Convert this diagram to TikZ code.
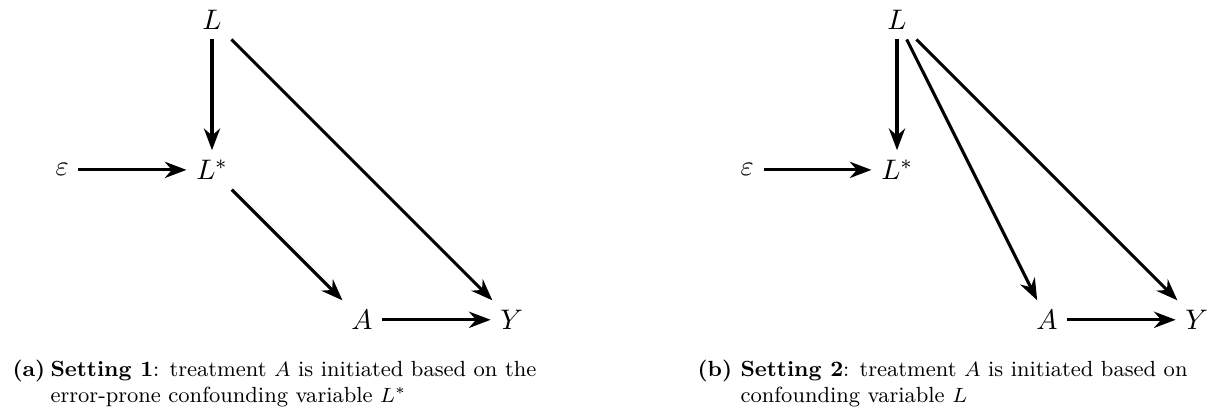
\documentclass[tikz,border=0pt]{standalone}
\usetikzlibrary{arrows.meta,positioning}
\tikzset{var/.style={on grid,inner sep=3.6pt,font=\fontsize{10.95}{13.6}\selectfont}}
\tikzset{cause/.style={-{Stealth},line width=1.2pt}}
\tikzset{caplabel/.style={anchor=base west,inner sep=0pt,font=\fontsize{8.5}{10.5}\selectfont\bfseries}}
\tikzset{capline/.style={anchor=base west,inner sep=0pt,font=\fontsize{8.5}{10.5}\selectfont}}

\begin{document}
\begin{tikzpicture}[x=0.3876pt,y=-0.3876pt,node distance=58.1pt]
\useasboundingbox (0,0) rectangle (1209,408);
\node[var](L1) at (212,20) {$L$};
\node[var](Ls1)[below=of L1]{$L^*$};
\node[var](eps1)[left=of Ls1]{$\varepsilon$};
\node[var](A1)[below right=58.1pt and 58.1pt of Ls1]{$A$};
\node[var](Y1)[right=of A1]{$Y$};
\draw[cause](L1) -- (Ls1);
\draw[cause](eps1) -- (Ls1);
\draw[cause](Ls1) -- (A1);
\draw[cause](L1) -- (Y1);
\draw[cause](A1) -- (Y1);
\node[caplabel](laba) at (12,376) {(a)};
\node[capline](capa1) at (50,376) {\textbf{Setting 1}: treatment $A$ is initiated based on the};
\node[capline](capa2) at (50,402) {error-prone confounding variable $L^*$};

\node[var](L2) at (897,20) {$L$};
\node[var](Ls2)[below=of L2]{$L^*$};
\node[var](eps2)[left=of Ls2]{$\varepsilon$};
\node[var](A2)[below right=58.1pt and 58.1pt of Ls2]{$A$};
\node[var](Y2)[right=of A2]{$Y$};
\draw[cause](L2) -- (Ls2);
\draw[cause](eps2) -- (Ls2);
\draw[cause](L2) -- (A2);
\draw[cause](L2) -- (Y2);
\draw[cause](A2) -- (Y2);
\node[caplabel](labb) at (697,376) {(b)};
\node[capline](capb1) at (740,376) {\textbf{Setting 2}: treatment $A$ is initiated based on};
\node[capline](capb2) at (740,402) {confounding variable $L$};
\end{tikzpicture}
\end{document}
